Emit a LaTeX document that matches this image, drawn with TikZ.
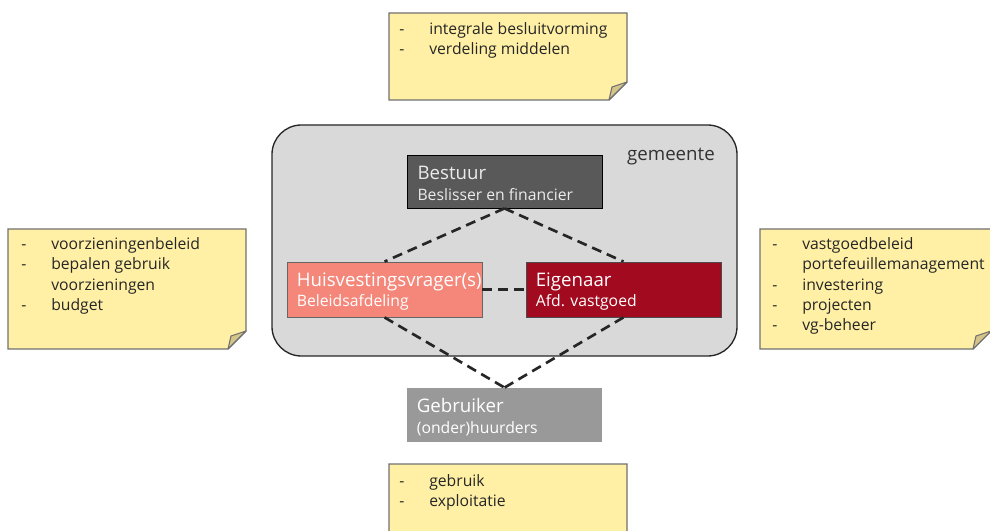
\documentclass[tikz,border=0pt]{standalone}
\usepackage{fontspec}
\setmainfont{Open Sans}
\definecolor{notefill}{HTML}{FFF0A6}
\definecolor{notedraw}{HTML}{707070}
\definecolor{foldfill}{HTML}{D4C48A}
\definecolor{gemfill}{HTML}{D9D9D9}
\definecolor{bestfill}{HTML}{595959}
\definecolor{huisfill}{HTML}{F4877A}
\definecolor{eigfill}{HTML}{A20B1F}
\definecolor{gebrfill}{HTML}{999999}
\newcommand\dl[1]{\makebox[22.5pt][l]{-}#1}
\newcommand\cl[1]{\hspace*{22.5pt}#1}
\newcommand\subfnt{\fontsize{11.8}{15}\selectfont}
\begin{document}
\begin{tikzpicture}[x=0.75pt,y=-0.75pt,
  note/.style={fill=notefill,draw=notedraw,line width=0.8pt},
  fold/.style={fill=foldfill,draw=notedraw,line width=0.8pt,line join=round},
  notetext/.style={anchor=north west,inner sep=0pt,align=left,font=\fontsize{11.8}{15.3}\selectfont,text=black!85},
  box/.style={rectangle,inner sep=0pt,minimum width=146.25pt,line width=0.6pt},
  title/.style={anchor=west,inner sep=0pt,align=left,font=\fontsize{14}{15.5}\selectfont},
  conn/.style={dash pattern=on 7.5pt off 4.5pt,line width=2pt,black!85}]
\useasboundingbox (0,0) rectangle (990,531);
% sticky notes
\path[note] (389,13) -- (627,13) -- (627,82) -- (609,100) -- (389,100) -- cycle;
\path[fold] (627,82) -- (612,87) -- (609,100) -- cycle;
\node[notetext] (ntop) at (399,22) {\dl{integrale besluitvorming}\\\dl{verdeling middelen}};
\path[note] (8,229) -- (246,229) -- (246,331) -- (228,349) -- (8,349) -- cycle;
\path[fold] (246,331) -- (231,336) -- (228,349) -- cycle;
\node[notetext] (nleft) at (21,237) {\dl{voorzieningenbeleid}\\\dl{bepalen gebruik}\\\cl{voorzieningen}\\\dl{budget}};
\path[note] (760,229) -- (991,229) -- (991,331) -- (973,349) -- (760,349) -- cycle;
\path[fold] (991,331) -- (976,336) -- (973,349) -- cycle;
\node[notetext] (nright) at (772,237) {\dl{vastgoedbeleid}\\\cl{portefeuillemanagement}\\\dl{investering}\\\dl{projecten}\\\dl{vg-beheer}};
\path[note] (389,464) -- (627,464) -- (627,533) -- (609,551) -- (389,551) -- cycle;
\path[fold] (627,533) -- (612,538) -- (609,551) -- cycle;
\node[notetext] (nbot) at (399,474) {\dl{gebruik}\\\dl{exploitatie}};
% gemeente
\draw[fill=gemfill,draw=black!85,line width=1pt,rounded corners=22pt] (272,125) rectangle (737,356);
\node[anchor=east,inner sep=0pt,font=\fontsize{14}{15}\selectfont,text=black!80] (gem) at (715,157) {gemeente};
% boxes
\node[box,draw=black,fill=bestfill,minimum height=39.75pt] (bestuur) at (504.5,181.5) {};
\node[box,draw=black!60,fill=huisfill,minimum height=41.25pt] (huis) at (384.5,289.5) {};
\node[box,draw=black!70,fill=eigfill,minimum height=41.25pt] (eigen) at (623.5,289.5) {};
\node[box,fill=gebrfill,minimum height=40.5pt] (gebr) at (504.5,415) {};
\node[title,text=white!92!black] (bestuurT) at ([xshift=8pt,yshift=-1.5pt]bestuur.west) {Bestuur\\{\subfnt Beslisser en financier}};
\node[title,text=white] (huisT) at ([xshift=7.5pt,yshift=-1.5pt]huis.west) {Huisvestingsvrager(s)\\{\subfnt Beleidsafdeling}};
\node[title,text=white] (eigenT) at ([xshift=7.5pt,yshift=-1.5pt]eigen.west) {Eigenaar\\{\subfnt Afd. vastgoed}};
\node[title,text=white] (gebrT) at ([xshift=7.5pt,yshift=-1.5pt]gebr.west) {Gebruiker\\{\subfnt (onder)huurders}};
% connectors
\draw[conn] (bestuur.south) -- (huis.north);
\draw[conn] (bestuur.south) -- (eigen.north);
\draw[conn] (huis.east) -- (eigen.west);
\draw[conn] (huis.south) -- (gebr.north);
\draw[conn] (eigen.south) -- (gebr.north);
\end{tikzpicture}
\end{document}
